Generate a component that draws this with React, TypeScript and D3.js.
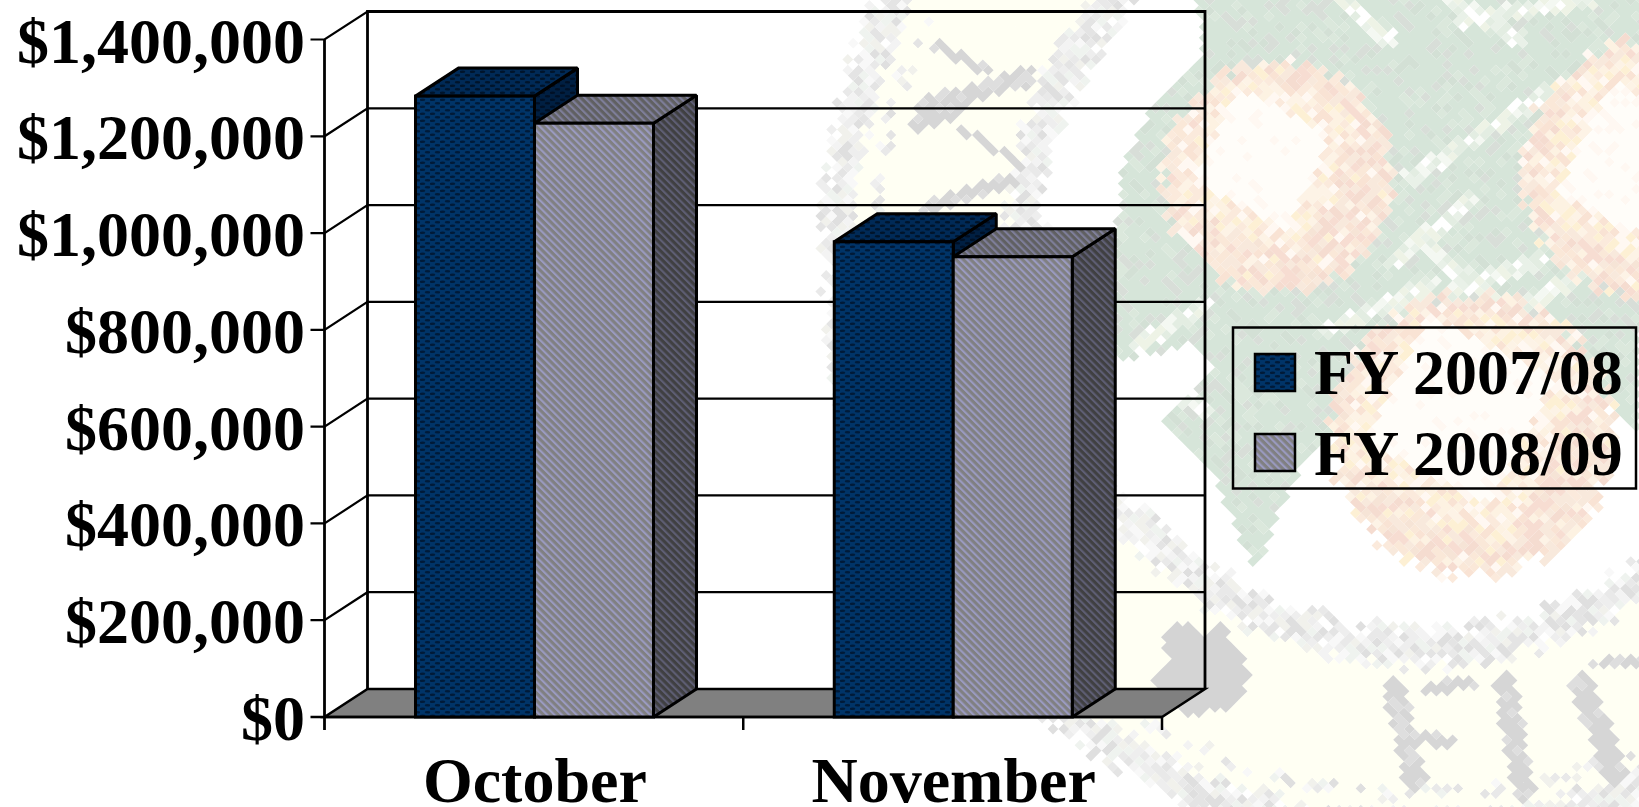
import React, { useMemo } from "react";
import * as d3 from "d3";

// Monthly totals by fiscal year
const categories = ["October", "November"];
const seriesNames = ["FY 2007/08", "FY 2008/09"];
const fy0708Values = [1283000, 982000];
const fy0809Values = [1227000, 951000];
const yTicks = [0, 200000, 400000, 600000, 800000, 1000000, 1200000, 1400000];

// Seal artwork behind the chart: a mosaic of diamond tiles
const sealCentre: [number, number] = [1420, 250];
const greenOutline: [number, number][] = [
  [1195, -10], [1204, 52], [1150, 110], [1122, 165], [1115, 250], [1112, 340], [1122, 362], [1190, 345], [1214, 372],
  [1160, 420], [1215, 480], [1256, 572], [1292, 480], [1335, 430], [1500, 300], [1639, 440], [1650, -10],
];
const paleStreaks: [number, number, number, number][] = [
  [1410, 178, 1546, 94], [1395, 262, 1470, 200], [1330, 330, 1430, 285], [1450, 290, 1540, 260],
  [1450, 0, 1520, 40], [1340, 0, 1390, 40], [1460, 20, 1590, 0], [1590, 270, 1500, 320],
  [1430, 245, 1490, 300], [1135, 365, 1205, 410], [1140, 345, 1205, 305],
];
const holly: { c: [number, number]; core: [number, number]; r: number; coreSize: number }[] = [
  { c: [1278, 177], core: [1262, 158], r: 120, coreSize: 52 },
  { c: [1652, 170], core: [1640, 165], r: 135, coreSize: 62 },
  { c: [1472, 435], core: [1460, 410], r: 146, coreSize: 70 },
];
const letterStrokes: [number, number, number, number, number][] = [
  [1394, 690, 1416, 782, 11], [1425, 690, 1470, 682, 6], [1420, 735, 1450, 745, 6],
  [1505, 684, 1524, 790, 11], [1582, 685, 1616, 772, 12], [1590, 665, 1639, 660, 5],
  [925, 107, 1027, 77, 9], [915, 125, 955, 112, 8], [930, 207, 1010, 180, 8], [935, 45, 990, 72, 5], [965, 130, 1020, 165, 4],
];
const blobOutline: [number, number][] = [
  [1158, 638], [1182, 622], [1203, 636], [1220, 622], [1238, 648], [1252, 680], [1228, 707],
  [1203, 714], [1180, 714], [1148, 680], [1170, 656],
];

const greys = ["#f8f8f8", "#f3f3f3", "#eeeeee", "#e9e9e9", "#e4e4e4", "#eff3ef", "#dfdfdf", "#f1f1ec"];
const greens = ["#d6e5d9", "#d6e5d9", "#d6e5d9", "#d6e5d9", "#d3e0d5", "#dbe8dc", "#d8ded8", "#d6e5d9"];
const palest = ["#f4f8f2", "#e9f1e8", "#ffffff", "#eef3e6", "#e3ede2"];
const peach = ["#fdf3e6", "#fbeadc", "#fdf0d4", "#fff8f2", "#fdf2e2", "#f9e3d4"];
const rose = ["#f8e0d6", "#f6e4d6", "#f8e9dc", "#f5dcd0", "#fae8d8", "#f7ddd2"];

const tileHash = (i: number, j: number) => {
  let h = (i * 374761393 + j * 668265263) | 0;
  h = Math.imul(h ^ (h >>> 13), 1274126177);
  return ((h ^ (h >>> 16)) >>> 0) / 4294967296;
};
const pick = (list: string[], t: number) => list[Math.floor(t * list.length) % list.length];
const segDist = (x: number, y: number, a: number, b: number, c: number, d: number) => {
  const dx = c - a, dy = d - b;
  const t = Math.max(0, Math.min(1, ((x - a) * dx + (y - b) * dy) / (dx * dx + dy * dy)));
  return Math.hypot(x - a - t * dx, y - b - t * dy);
};

function tileColour(x: number, y: number, i: number, j: number): string | null {
  const h = tileHash(i, j);
  const r = Math.hypot(x - sealCentre[0], y - sealCentre[1]);
  if (r > 606) return null;
  let col: string | null = null;
  if (r > 410 && r < 570) col = "#fffff3";
  const innerGap = Math.abs(r - 397);
  const outerGap = Math.abs(r - 582);
  if (innerGap < 24 && h < 1.15 - innerGap / 30) col = pick(greys, tileHash(j, i));
  if (outerGap < 22 && h < 1.15 - outerGap / 28) col = pick(greys, tileHash(j, i));
  if (Math.abs(r - 545) < 7 && h < 0.4) col = pick(greys, tileHash(j, i));
  if (d3.polygonContains(greenOutline, [x, y])) {
    col = pick(greens, h);
    if (paleStreaks.some((s) => segDist(x, y, s[0], s[1], s[2], s[3]) < 8)) col = pick(palest, h);
  }
  for (const { c, core, r: R, coreSize } of holly) {
    const d = Math.hypot(x - c[0], y - c[1]);
    if (d < R) {
      const u = x - core[0], v = y - core[1];
      // The berry's bright centre is a rotated square rather than a disc
      const a = (u * 0.9 + v * 0.44), b = (-u * 0.44 + v * 0.9);
      const coreDist = Math.max(Math.abs(a), Math.abs(b));
      if (coreDist < coreSize) col = h < 0.85 ? "#fffdf9" : "#fff8f2";
      else if (coreDist < coreSize * 1.45 && d < R * 0.86) col = pick(peach, h);
      else if (d < R * 0.93 || h < 0.55) col = h < 0.28 ? pick(peach, h * 3.5) : pick(rose, h);
    }
  }
  if (letterStrokes.some((s) => segDist(x, y, s[0], s[1], s[2], s[3]) < s[4])) col = h < 0.75 ? "#d6d6d6" : "#dedede";
  if (d3.polygonContains(blobOutline, [x, y])) col = "#d4d4d4";
  return col === "#ffffff" ? null : col;
}

function SealMosaic() {
  const paths = useMemo(() => {
    const byColour = new Map<string, string[]>();
    const half = 5.4;
    for (let i = 150; i < 312; i++) {
      for (let j = 0; j < 156; j++) {
        if ((i + j) % 2) continue;
        const x = i * half, y = j * half;
        const col = tileColour(x, y, i, j);
        if (!col) continue;
        if (!byColour.has(col)) byColour.set(col, []);
        byColour.get(col)!.push(`M${x} ${y - half}L${x + half} ${y}L${x} ${y + half}L${x - half} ${y}Z`);
      }
    }
    return Array.from(byColour, ([fill, parts]) => ({ fill, d: parts.join("") }));
  }, []);
  return (
    <g>
      {paths.map((p) => (
        <path key={p.fill} d={p.d} fill={p.fill} />
      ))}
    </g>
  );
}

const FONT = "'Liberation Serif', serif";
const FONT_SIZE = 64;
const depthX = 43;
const depthY = 28;

const y = d3.scaleLinear().domain([0, 1400000]).range([717, 39.5]);
const xCat = d3.scaleBand<string>().domain(categories).range([324.5, 1162]);
const xSeries = d3.scaleBand<string>().domain(seriesNames).range([91, 329]);
const yLabel = d3.format("$,");

const fillIds = [
  { front: "url(#blueFront)", top: "url(#blueTop)", side: "url(#blueSide)" },
  { front: "url(#greyFront)", top: "url(#greyTop)", side: "url(#greySide)" },
];
const seriesValues = [fy0708Values, fy0809Values];

function StripePattern({ id, base, stripe }: { id: string; base: string; stripe: string }) {
  return (
    <pattern id={id} width={5.2} height={5.2} patternUnits="userSpaceOnUse" patternTransform="rotate(-45)">
      <rect width={5.2} height={5.2} fill={base} />
      <rect width={2.1} height={5.2} fill={stripe} />
    </pattern>
  );
}

function DotPattern({ id, base, dot }: { id: string; base: string; dot: string }) {
  return (
    <pattern id={id} width={10} height={7} patternUnits="userSpaceOnUse">
      <rect width={10} height={7} fill={base} />
      <ellipse cx={2.5} cy={1.75} rx={2.8} ry={1.25} fill={dot} />
      <ellipse cx={7.5} cy={5.25} rx={2.8} ry={1.25} fill={dot} />
    </pattern>
  );
}

function Bar({ left, width, value, fills }: { left: number; width: number; value: number; fills: (typeof fillIds)[number] }) {
  const top = y(value);
  const base = y(0);
  const right = left + width;
  const line = d3.line();
  const topFace = line([[left, top], [left + depthX, top - depthY], [right + depthX, top - depthY], [right, top]])! + "Z";
  const sideFace = line([[right, top], [right + depthX, top - depthY], [right + depthX, base - depthY], [right, base]])! + "Z";
  return (
    <g stroke="#000" strokeWidth={3} strokeLinejoin="miter" strokeMiterlimit={1.5}>
      <path d={sideFace} fill={fills.side} />
      <path d={topFace} fill={fills.top} />
      <rect x={left} y={top} width={width} height={base - top} fill={fills.front} />
    </g>
  );
}

export default function App() {
  const y0 = y(0);
  const x0 = xCat.range()[0];
  const x1 = xCat.range()[1];
  const wallTop = y(1400000) - depthY;
  const floor = d3.line()([[x0, y0], [x1, y0], [x1 + depthX, y0 - depthY], [x0 + depthX, y0 - depthY]])! + "Z";
  const legendRows = [
    { name: seriesNames[0], fill: fillIds[0].front, swatchY: 354, baseline: 394 },
    { name: seriesNames[1], fill: fillIds[1].front, swatchY: 434, baseline: 475 },
  ];
  return (
    <svg width={1639} height={807} style={{ position: "absolute", left: 0, top: 0, display: "block", background: "#fff" }}>
      <defs>
        <DotPattern id="blueFront" base="#003468" dot="#001a38" />
        <DotPattern id="blueTop" base="#002a57" dot="#00142b" />
        <DotPattern id="blueSide" base="#001f42" dot="#001026" />
        <StripePattern id="greyFront" base="#808082" stripe="#9a9ac0" />
        <StripePattern id="greyTop" base="#606062" stripe="#7e7e9a" />
        <StripePattern id="greySide" base="#404042" stripe="#5e5e74" />
      </defs>

      <SealMosaic />

      {/* Floor and back wall */}
      <path d={floor} fill="#808080" stroke="#000" strokeWidth={2.5} />
      <g stroke="#000" fill="none">
        <path
          d={d3.line()([[x0 + depthX, y0 - depthY], [x0 + depthX, wallTop], [x1 + depthX, wallTop], [x1 + depthX, y0 - depthY]])!}
          strokeWidth={2.8}
        />
        {yTicks.slice(1).map((t) => (
          <path
            key={t}
            d={d3.line()([[x0 - 14, y(t)], [x0, y(t)], [x0 + depthX, y(t) - depthY], [x1 + depthX, y(t) - depthY]])!}
            strokeWidth={2.2}
          />
        ))}
        <path d={d3.line()([[x0 - 14, y0], [x1, y0]])!} strokeWidth={2.5} />
        <path d={d3.line()([[x0, y(1400000)], [x0, y0 + 13]])!} strokeWidth={2.8} />
        {categories.map((c) => {
          const tx = (xCat(c) as number) + xCat.bandwidth();
          return <path key={c} d={d3.line()([[tx, y0], [tx, y0 + 13]])!} strokeWidth={2.5} />;
        })}
      </g>

      {/* Bars, back to front within each month */}
      {categories.map((c, ci) =>
        seriesNames.map((s, si) => (
          <Bar
            key={c + s}
            left={(xCat(c) as number) + (xSeries(s) as number)}
            width={xSeries.bandwidth()}
            value={seriesValues[si][ci]}
            fills={fillIds[si]}
          />
        ))
      )}

      <g fontFamily={FONT} fontWeight="bold" fontSize={FONT_SIZE} fill="#000">
        {yTicks.map((t) => (
          <text key={t} x={305} y={y(t) + 23} textAnchor="end">
            {yLabel(t)}
          </text>
        ))}
        {categories.map((c) => (
          <text key={c} x={(xCat(c) as number) + xCat.bandwidth() / 2 + 1} y={802} textAnchor="middle">
            {c}
          </text>
        ))}
      </g>

      {/* Legend */}
      <rect x={1233} y={327.5} width={403} height={161} fill="none" stroke="#000" strokeWidth={2.5} />
      {legendRows.map((row) => (
        <g key={row.name}>
          <rect x={1255} y={row.swatchY} width={40} height={37} fill={row.fill} stroke="#000" strokeWidth={2.5} />
          <text x={1314} y={row.baseline} fontFamily={FONT} fontWeight="bold" fontSize={FONT_SIZE} fill="#000">
            {row.name}
          </text>
        </g>
      ))}
    </svg>
  );
}
